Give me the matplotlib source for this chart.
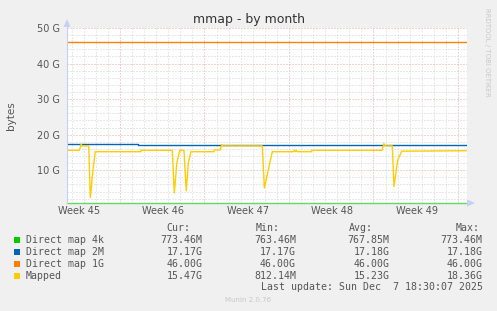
import matplotlib
matplotlib.use("Agg")
import matplotlib.pyplot as plt
import numpy as np

# ----------------------------------------------------------------------
# Data (x = days since the left edge of the graph, y = GiB)
# ----------------------------------------------------------------------
span_days = 33.14
first_midnight = 0.39          # Nov 5 00:00
sundays = [4.39, 11.39, 18.39, 25.39, 32.39]
week_labels = ["Week 45", "Week 46", "Week 47", "Week 48", "Week 49"]

direct4k_t = [0.0, 33.06]
direct4k_v = [0.77, 0.77]

direct2m_t = [0.0, 5.86, 5.87, 33.06]
direct2m_v = [17.35, 17.35, 17.17, 17.17]

direct1g_t = [0.0, 33.06]
direct1g_v = [46.0, 46.0]

mapped_t = [0.0, 1.02, 1.18, 1.24, 1.80, 1.93, 2.15, 2.34, 6.13, 6.14,
            8.72, 8.89, 9.10, 9.34, 9.69, 9.88, 10.05, 10.27, 12.18, 12.19,
            12.68, 12.82, 12.88, 16.18, 16.35, 16.68, 17.01, 18.75, 18.83,
            18.92, 19.0, 19.08, 20.27, 20.28, 26.10, 26.26, 26.33, 26.95,
            27.09, 27.40, 27.73, 33.06]
mapped_v = [15.6, 15.6, 17.3, 16.85, 16.85, 2.3, 10.0, 15.2, 15.2, 15.6,
            15.6, 3.6, 12.0, 15.6, 15.6, 4.2, 12.0, 15.2, 15.2, 15.7,
            15.7, 17.2, 16.85, 16.85, 5.0, 10.1, 15.2, 15.2, 15.6,
            15.2, 15.6, 15.2, 15.2, 15.6, 15.6, 17.5, 16.85, 16.85,
            5.4, 12.9, 15.35, 15.47]

series_names = ["Direct map 4k", "Direct map 2M", "Direct map 1G", "Mapped"]
series_colors = ["#00CC00", "#0066B3", "#FF8000", "#FFCC00"]
cur_vals = ["773.46M", "17.17G", "46.00G", "15.47G"]
min_vals = ["763.46M", "17.17G", "46.00G", "812.14M"]
avg_vals = ["767.85M", "17.18G", "46.00G", "15.23G"]
max_vals = ["773.46M", "17.18G", "46.00G", "18.36G"]

W, H = 497, 311
fig = plt.figure(figsize=(W / 100, H / 100), dpi=100)
fig.patch.set_facecolor("#F0F0F0")

# graph area: x 67..467, y 28..203 (pixels from top)
ax = fig.add_axes([67 / W, (H - 203) / H, 400 / W, 175 / H])
ax.set_facecolor("white")
ax.set_xlim(0, span_days)
ax.set_ylim(0.77, 50.0)
for s in ax.spines.values():
    s.set_visible(False)
ax.tick_params(length=0)

# grid
dot = (0, (1, 2))
for d in np.arange(first_midnight, span_days, 1.0):
    major = any(abs(d - s) < 0.01 for s in sundays)
    ax.axvline(d, color="#E3A8A8" if major else "#D2D2D2", lw=0.72, ls=dot, zorder=1)
for g in range(2, 51, 2):
    ax.axhline(g, color="#E3A8A8" if g % 10 == 0 else "#D2D2D2", lw=0.72, ls=dot, zorder=1)

# series
ax.plot(direct4k_t, direct4k_v, color=series_colors[0], lw=1.0, zorder=3,
        clip_on=False, alpha=0.6)
ax.plot(direct2m_t, direct2m_v, color=series_colors[1], lw=1.0, zorder=3,
        drawstyle="steps-post")
ax.plot(direct1g_t, direct1g_v, color=series_colors[2], lw=1.0, zorder=3)
ax.plot(mapped_t, mapped_v, color=series_colors[3], lw=1.0, zorder=4)

# ticks
ax.set_yticks([10, 20, 30, 40, 50])
ax.set_yticklabels(["10 G", "20 G", "30 G", "40 G", "50 G"],
                   fontsize=7, color="#555555")
ax.set_xticks([s - 3.4 for s in sundays])
ax.set_xticklabels(week_labels, fontsize=7, color="#555555")
ax.tick_params(axis="y", pad=5)
ax.tick_params(axis="x", pad=2)

# axes lines + arrows (lavender)
ac = "#C8CFF5"
fig.add_artist(plt.Line2D([67 / W, 67 / W], [(H - 203) / H, (H - 24) / H],
                          color=ac, lw=0.8))
fig.add_artist(plt.Polygon([[63.5 / W, (H - 27) / H], [70.5 / W, (H - 27) / H],
                            [67 / W, (H - 19) / H]], color=ac, lw=0))
fig.add_artist(plt.Polygon([[467 / W, (H - 199.5) / H], [467 / W, (H - 206.5) / H],
                            [475 / W, (H - 203) / H]], color=ac, lw=0))

# title / labels
fig.text(249 / W, 1 - 19 / H, "mmap - by month", ha="center", va="center",
         fontsize=9, color="#333333")
fig.text(11 / W, 1 - 116 / H, "bytes", ha="center", va="center",
         rotation=90, fontsize=7.5, color="#555555")
fig.text(487 / W, 1 - 52 / H, "RRDTOOL / TOBI OETIKER", ha="center",
         va="center", rotation=270, fontsize=5, color="#C8C8C8")

# legend
mono = "DejaVu Sans Mono"
tc = "#555555"
fs = 7.1
rows_y = [239.7, 251.7, 263.7, 275.7]
for hdr, xr in [("Cur:", 190), ("Min:", 280), ("Avg:", 373.3), ("Max:", 480)]:
    fig.text(xr / W, 1 - 228.3 / H, hdr, ha="right", va="center",
             family=mono, fontsize=fs, color=tc)
for i, y in enumerate(rows_y):
    fig.add_artist(plt.Rectangle((14 / W, 1 - (y + 3) / H), 6 / W, 6 / H,
                                 color=series_colors[i], lw=0))
    fig.text(26 / W, 1 - y / H, series_names[i], ha="left", va="center",
             family=mono, fontsize=fs, color=tc)
    for vals, xr in [(cur_vals, 202.7), (min_vals, 296), (avg_vals, 389.3),
                     (max_vals, 482.7)]:
        fig.text(xr / W, 1 - y / H, vals[i], ha="right", va="center",
                 family=mono, fontsize=fs, color=tc)
fig.text(482.7 / W, 1 - 287.3 / H, "Last update: Sun Dec  7 18:30:07 2025",
         ha="right", va="center", family=mono, fontsize=fs, color=tc)
fig.text(248 / W, 1 - 300.5 / H, "Munin 2.0.76", ha="center", va="center",
         fontsize=5, color="#C8C8C8")

fig.savefig("out.png", dpi=100, facecolor=fig.get_facecolor())
